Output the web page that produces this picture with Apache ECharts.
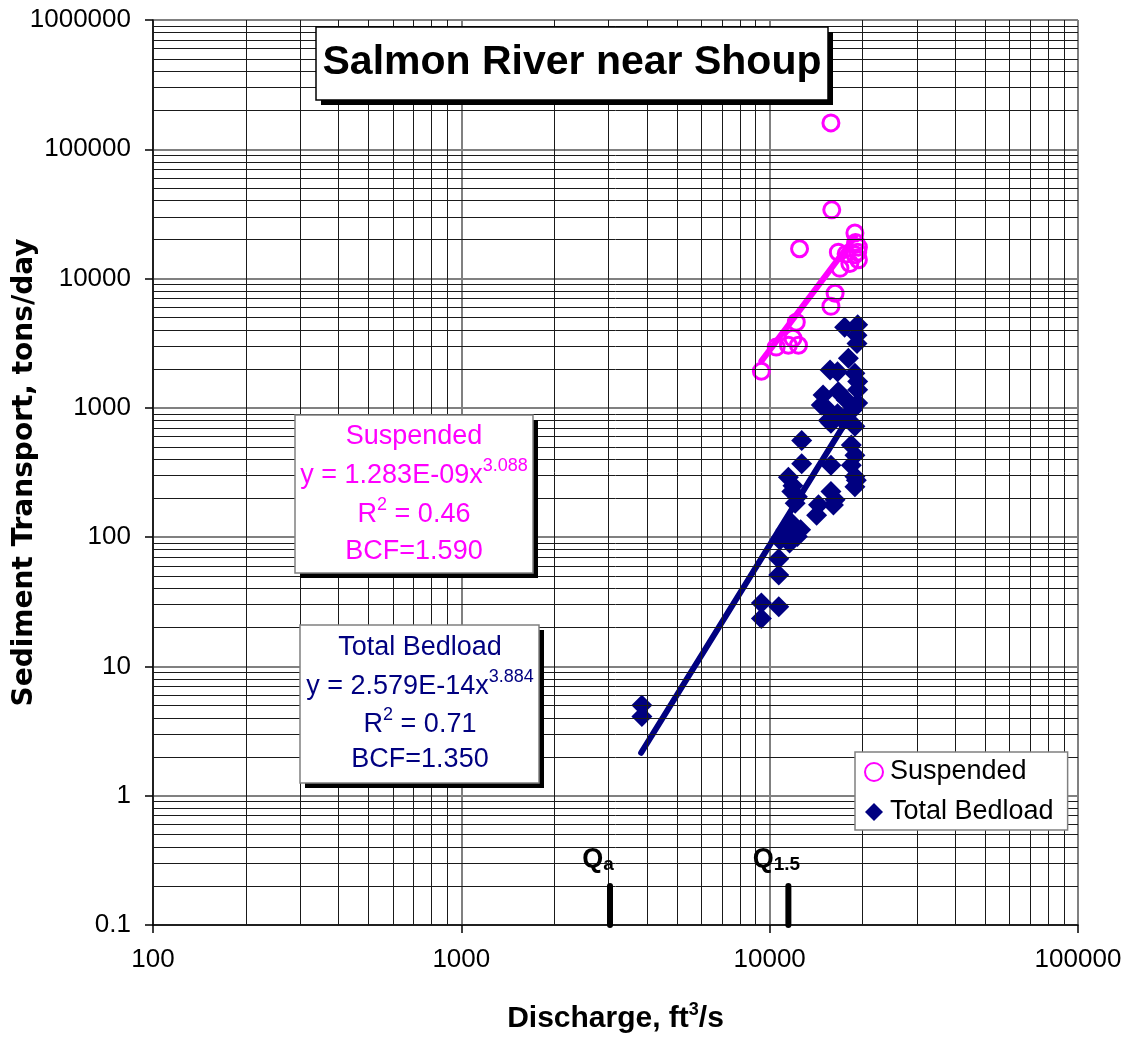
<!DOCTYPE html>
<html><head><meta charset="utf-8">
<script src="https://cdn.jsdelivr.net/npm/echarts@6/dist/echarts.min.js"></script>
<style>html,body{margin:0;padding:0;background:#fff}#c{width:1129px;height:1040px}</style>
</head><body><div id="c"></div>
<script>
// ---- data ----
const suspendedQ = [15800, 15900, 12500, 18900, 16700, 17700, 19400, 18900, 19400, 18200, 16900, 19000, 19300, 16300, 15800, 12200, 11900, 12400, 11500, 10500, 9400];
const suspendedT = [160000, 34000, 17000, 22500, 16000, 15500, 17500, 15300, 14000, 13100, 12000, 19000, 16000, 7700, 6100, 4600, 3450, 3050, 3050, 2950, 1920];

const bedloadQ = [17500, 19300, 19200, 19200, 18000, 15700, 16600, 18900, 19300, 14900, 14700, 16700, 17700, 19300, 19300,
  15500, 18500, 16600, 15500, 17300, 18900, 15800, 12700, 18400, 18900, 12700, 15800, 18400, 18900, 19100,
  11500, 11900, 18900, 15800, 16300, 12300, 12100, 14400, 11800, 16100, 14200, 11800, 12600, 11300, 11600,
  10800, 12300, 10700, 10700, 9400, 10700, 9400, 3850, 3850];
const bedloadT = [4200, 4400, 3650, 3150, 2420, 1960, 1900, 1850, 1600, 1260, 1050, 1330, 1150, 1380, 1090,
  960, 960, 900, 800, 800, 720, 760, 560, 515, 430, 370, 360, 360, 295, 275,
  290, 250, 245, 225, 195, 205, 183, 178, 225, 177, 148, 128, 114, 114, 90,
  95, 101, 68, 51, 31, 29, 23.5, 5.0, 4.1];

const suspendedFitQ = [9400, 18900];
const suspendedFitT = [2300, 21000];
const bedloadFitQ = [3830, 17800];
const bedloadFitT = [2.15, 800];

const markerSub = ['a', '1.5'];
const markerQ = [3035, 11500];
const markerT = [0.1, 0.2];

const xTickLabels = ['100', '1000', '10000', '100000'];
const yTickLabels = ['0.1', '1', '10', '100', '1000', '10000', '100000', '1000000'];
const xMinorGrid = [200, 300, 400, 500, 600, 700, 800, 900,
  2000, 3000, 4000, 5000, 6000, 7000, 8000, 9000,
  20000, 30000, 40000, 50000, 60000, 70000, 80000, 90000];
const yMinorGrid = [0.2, 0.3, 0.4, 0.5, 0.6, 0.7, 0.8, 0.9,
  2, 3, 4, 5, 6, 7, 8, 9,
  20, 30, 40, 50, 60, 70, 80, 90,
  200, 300, 400, 500, 600, 700, 800, 900,
  2000, 3000, 4000, 5000, 6000, 7000, 8000, 9000,
  20000, 30000, 40000, 50000, 60000, 70000, 80000, 90000,
  200000, 300000, 400000, 500000, 600000, 700000, 800000, 900000];

// ---- chart ----
const FONT = '"Liberation Sans", Arial, sans-serif';
const PINK = '#ff00ff';
const NAVY = '#000080';
const zip = (a, b) => a.map((v, i) => [v, b[i]]);
const findLabel = (labels, v) => labels.find(l => Math.abs(Math.log10(+l) - Math.log10(v)) < 1e-6) || '';

const chart = echarts.init(document.getElementById('c'), null, { renderer: 'canvas' });

const markerSeries = markerQ.map((q, i) => ({
  type: 'line', name: 'marker' + i, data: [[q, markerT[0]], [q, markerT[1]]],
  showSymbol: false, symbol: 'none', z: 6,
  lineStyle: { color: '#000', width: 6, cap: 'round', opacity: 1 }
}));
const markerLabels = {
  type: 'scatter', name: 'markerLabels', z: 7,
  data: markerQ.map((q, i) => ({ value: [q, markerT[1]] })),
  symbolSize: 1, itemStyle: { color: 'rgba(0,0,0,0)', opacity: 1 },
  label: {
    show: true, position: 'top', distance: 11, offset: [-12, 0], color: '#000', opacity: 1,
    formatter: p => '{q|Q}{s|' + markerSub[p.dataIndex] + '}',
    rich: {
      q: { fontFamily: FONT, fontWeight: 'bold', fontSize: 27, lineHeight: 30, color: '#000', verticalAlign: 'middle' },
      s: { fontFamily: FONT, fontWeight: 'bold', fontSize: 19, lineHeight: 19, color: '#000', verticalAlign: 'bottom' }
    }
  }
};

const gridLineStyle = { color: '#1a1a1a', width: 1, type: 'solid' };

function textLine(x, y, rich, text, color) {
  return { type: 'text', x: x, y: y, z: 101,
    style: { text: text, rich: rich, fill: color, align: 'center', verticalAlign: 'middle' } };
}
function boxRich(color) {
  return {
    t: { fontFamily: FONT, fontSize: 27, lineHeight: 38, fill: color, color: color, verticalAlign: 'middle' },
    s: { fontFamily: FONT, fontSize: 18, lineHeight: 18, fill: color, color: color, verticalAlign: 'top' }
  };
}
const richS = boxRich(PINK), richB = boxRich(NAVY);

const option = {
  animation: false,
  backgroundColor: '#fff',
  grid: { left: 153, right: 51, top: 20, bottom: 115, containLabel: false, outerBoundsMode: 'none', show: false },
  xAxis: {
    type: 'log', logBase: 10, min: 100, max: 100000, interval: 1, splitNumber: 3,
    name: '{a|Discharge, ft}{s|3}{a|/s}', nameLocation: 'middle', nameGap: 76, nameMoveOverlap: false,
    nameTextStyle: {
      rich: {
        a: { fontFamily: FONT, fontWeight: 'bold', fontSize: 30, lineHeight: 36, color: '#000', verticalAlign: 'middle' },
        s: { fontFamily: FONT, fontWeight: 'bold', fontSize: 18, lineHeight: 18, color: '#000', verticalAlign: 'top' }
      }
    },
    axisLine: { show: true, onZero: false, lineStyle: { color: '#000', width: 1.5 } },
    axisTick: { show: true, inside: false, length: 8, lineStyle: { color: '#000', width: 1.5 } },
    axisLabel: { fontFamily: FONT, fontSize: 26, color: '#000', margin: 22, formatter: v => findLabel(xTickLabels, v) },
    splitLine: { show: true, lineStyle: { color: '#808080', width: 2 } },
    minorTick: { show: false }, minorSplitLine: { show: false }
  },
  yAxis: {
    type: 'log', logBase: 10, min: 0.1, max: 1000000, interval: 1, splitNumber: 7,
    name: 'Sediment Transport, tons/day', nameLocation: 'middle', nameGap: 114, nameRotate: 90, nameMoveOverlap: false,
    nameTextStyle: { fontFamily: '"DejaVu Sans", sans-serif', fontWeight: 'bold', fontSize: 28, color: '#000' },
    axisLine: { show: true, onZero: false, lineStyle: { color: '#000', width: 1.5 } },
    axisTick: { show: true, inside: false, length: 8, lineStyle: { color: '#000', width: 1.5 } },
    axisLabel: { fontFamily: FONT, fontSize: 26, color: '#000', margin: 22, formatter: v => findLabel(yTickLabels, v) },
    splitLine: { show: true, lineStyle: { color: '#808080', width: 2 } },
    minorTick: { show: false }, minorSplitLine: { show: false }
  },
  legend: {
    show: true, orient: 'vertical', left: 855, top: 752,
    data: ['Suspended', 'Total Bedload'],
    backgroundColor: '#fff', borderColor: '#808080', borderWidth: 1.5,
    padding: [5, 14, 3, 9], itemGap: 10, itemWidth: 18, itemHeight: 18,
    textStyle: { fontFamily: FONT, fontSize: 27, color: '#000', lineHeight: 30, padding: [0, 0, 0, 2] },
    z: 20
  },
  series: [
    {
      type: 'line', name: 'grid', data: [], z: 0, silent: true,
      markLine: {
        silent: true, symbol: ['none', 'none'], label: { show: false }, animation: false,
        lineStyle: gridLineStyle,
        data: xMinorGrid.map(v => ({ xAxis: v })).concat(yMinorGrid.map(v => ({ yAxis: v })))
      }
    },
    {
      type: 'scatter', name: 'Suspended', data: zip(suspendedQ, suspendedT), z: 3,
      symbol: 'circle', symbolSize: 16,
      itemStyle: { color: 'rgba(255,255,255,0)', borderColor: PINK, borderWidth: 3, opacity: 1 }
    },
    {
      type: 'scatter', name: 'Total Bedload', data: zip(bedloadQ, bedloadT), z: 3,
      symbol: 'diamond', symbolSize: 21,
      itemStyle: { color: NAVY, opacity: 1 }
    },
    {
      type: 'line', name: 'Suspended fit', data: zip(suspendedFitQ, suspendedFitT), z: 4,
      showSymbol: false, symbol: 'none', lineStyle: { color: PINK, width: 6, cap: 'round', opacity: 1 }
    },
    {
      type: 'line', name: 'Bedload fit', data: zip(bedloadFitQ, bedloadFitT), z: 4,
      showSymbol: false, symbol: 'none', lineStyle: { color: NAVY, width: 6, cap: 'round', opacity: 1 }
    }
  ].concat(markerSeries, [markerLabels]),
  graphic: [
    // title box
    { type: 'rect', z: 100, shape: { x: 321, y: 32, width: 512, height: 73 }, style: { fill: '#000' } },
    { type: 'rect', z: 100, shape: { x: 316, y: 27, width: 512, height: 73 }, style: { fill: '#fff', stroke: '#000', lineWidth: 1.5 } },
    { type: 'text', z: 101, x: 572, y: 63, style: { text: 'Salmon River near Shoup', fill: '#000',
        font: 'bold 41px "Liberation Sans", Arial, sans-serif', align: 'center', verticalAlign: 'middle' } },
    // suspended box
    { type: 'rect', z: 100, shape: { x: 300, y: 420, width: 238, height: 158 }, style: { fill: '#000' } },
    { type: 'rect', z: 100, shape: { x: 295, y: 415, width: 238, height: 158 }, style: { fill: '#fff', stroke: '#808080', lineWidth: 1.5 } },
    textLine(414, 437, richS, '{t|Suspended}', PINK),
    textLine(414, 476, richS, '{t|y = 1.283E-09x}{s|3.088}', PINK),
    textLine(414, 515, richS, '{t|R}{s|2}{t| = 0.46}', PINK),
    textLine(414, 552, richS, '{t|BCF=1.590}', PINK),
    // bedload box
    { type: 'rect', z: 100, shape: { x: 305, y: 630, width: 239, height: 158 }, style: { fill: '#000' } },
    { type: 'rect', z: 100, shape: { x: 300, y: 625, width: 239, height: 158 }, style: { fill: '#fff', stroke: '#808080', lineWidth: 1.5 } },
    textLine(420, 648, richB, '{t|Total Bedload}', NAVY),
    textLine(420, 687, richB, '{t|y = 2.579E-14x}{s|3.884}', NAVY),
    textLine(420, 725, richB, '{t|R}{s|2}{t| = 0.71}', NAVY),
    textLine(420, 760, richB, '{t|BCF=1.350}', NAVY)
  ]
};
chart.setOption(option);
</script></body></html>
